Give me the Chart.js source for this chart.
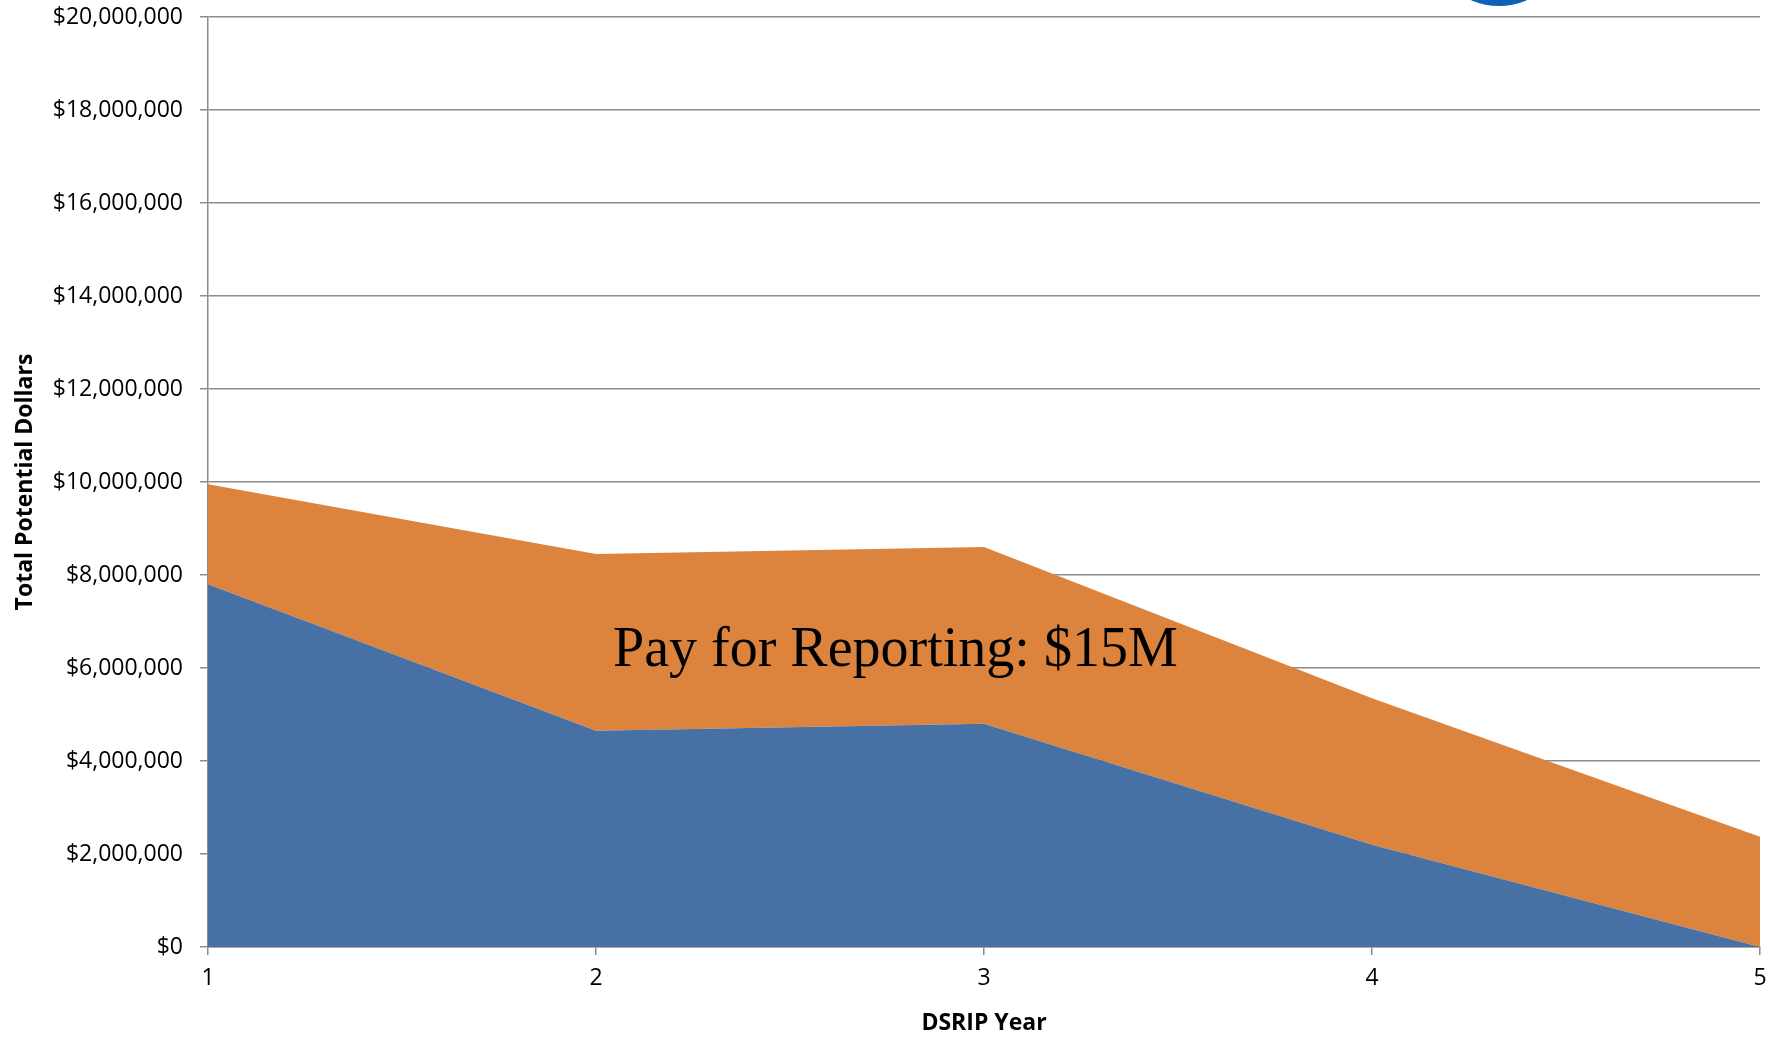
<!DOCTYPE html>
<html>
<head>
<meta charset="utf-8">
<title>DSRIP Year - Total Potential Dollars</title>
<script src="https://cdn.jsdelivr.net/npm/chart.js@4.4.1/dist/chart.umd.min.js"></script>
<style>
    html, body { margin: 0; padding: 0; background: #ffffff; }
    #wrap { width: 1768px; height: 1037px; position: relative; }
</style>
</head>
<body>
<div id="wrap"><canvas id="dsrip-chart" width="1768" height="1037"></canvas></div>
<script>
// Chart data
const YEARS = ['1', '2', '3', '4', '5'];
const PAY_FOR_PERFORMANCE = [7800000, 4650000, 4800000, 2200000, 0];
const PAY_FOR_REPORTING = [2150000, 3800000, 3800000, 3150000, 2370000];
const Y_TICK_STEP = 2000000;
const Y_MAX = 20000000;
const REPORTING_LABEL = 'Pay for Reporting: $15M';

const AXIS_GREY = '#8c8c8c';
const TICK_FONT = { family: '"Open Sans", sans-serif', size: 23 };
const TITLE_FONT = { family: '"Open Sans", sans-serif', size: 23, weight: 'bold' };

function formatDollars(value) {
    return '$' + Number(value).toLocaleString('en-US');
}

// Draws the area label and the corner badge on top of the chart.
const overlayPlugin = {
    id: 'overlay',
    afterDatasetsDraw(chart, args, opts) {
        const { ctx, scales } = chart;
        // category scale: x is an index into YEARS
        const x = scales.x.getPixelForValue(opts.labelAt[0]);
        const y = scales.y.getPixelForValue(opts.labelAt[1]);
        ctx.save();
        ctx.font = '56px "Liberation Serif", serif';
        ctx.fillStyle = '#000000';
        ctx.textAlign = 'left';
        ctx.textBaseline = 'alphabetic';
        ctx.fillText(opts.text, x, y);
        ctx.restore();
    },
    afterDraw(chart) {
        // partial logo badge cut by the top edge
        const ctx = chart.ctx;
        ctx.save();
        ctx.beginPath();
        ctx.arc(1499, -64, 70, 0, Math.PI * 2);
        ctx.fillStyle = '#1060b8';
        ctx.fill();
        ctx.restore();
    }
};

const config = {
    type: 'line',
    data: {
        labels: YEARS,
        datasets: [
            {
                label: 'Pay for Performance',
                data: PAY_FOR_PERFORMANCE,
                backgroundColor: '#4771a5',
                borderWidth: 0,
                pointRadius: 0,
                fill: 'origin',
                tension: 0
            },
            {
                label: 'Pay for Reporting',
                data: PAY_FOR_REPORTING,
                backgroundColor: '#dc843e',
                borderWidth: 0,
                pointRadius: 0,
                fill: '-1',
                tension: 0
            }
        ]
    },
    options: {
        responsive: false,
        devicePixelRatio: 1,
        animation: false,
        layout: {
            padding: 0
        },
        plugins: {
            legend: { display: false },
            tooltip: { enabled: false },
            overlay: {
                text: REPORTING_LABEL,
                labelAt: [1.044, 6050000]
            }
        },
        scales: {
            x: {
                type: 'category',
                offset: false,
                grid: {
                    drawOnChartArea: false,
                    drawTicks: true,
                    tickLength: 8,
                    color: AXIS_GREY,
                    lineWidth: 1.5
                },
                border: { color: AXIS_GREY, width: 1.5 },
                ticks: {
                    color: '#000000',
                    font: TICK_FONT,
                    padding: 10,
                    maxRotation: 0
                },
                title: {
                    display: true,
                    text: 'DSRIP Year',
                    color: '#000000',
                    font: TITLE_FONT,
                    padding: { top: 0, bottom: 0 }
                },
                afterFit(scale) {
                    scale.height = 90;
                    scale.paddingRight = 8;
                }
            },
            y: {
                stacked: true,
                min: 0,
                max: Y_MAX,
                grid: {
                    drawOnChartArea: true,
                    drawTicks: true,
                    tickLength: 8,
                    color: AXIS_GREY,
                    lineWidth: 1.5
                },
                border: { color: AXIS_GREY, width: 1.5 },
                ticks: {
                    stepSize: Y_TICK_STEP,
                    color: '#000000',
                    font: TICK_FONT,
                    padding: 17,
                    callback: (value) => formatDollars(value)
                },
                title: {
                    display: true,
                    text: 'Total Potential Dollars',
                    color: '#000000',
                    font: TITLE_FONT,
                    padding: { top: 12, bottom: 0 }
                },
                afterFit(scale) {
                    scale.width = 208;
                    scale.paddingTop = 17;
                }
            }
        }
    },
    plugins: [overlayPlugin]
};

new Chart(document.getElementById('dsrip-chart'), config);
</script>
</body>
</html>
